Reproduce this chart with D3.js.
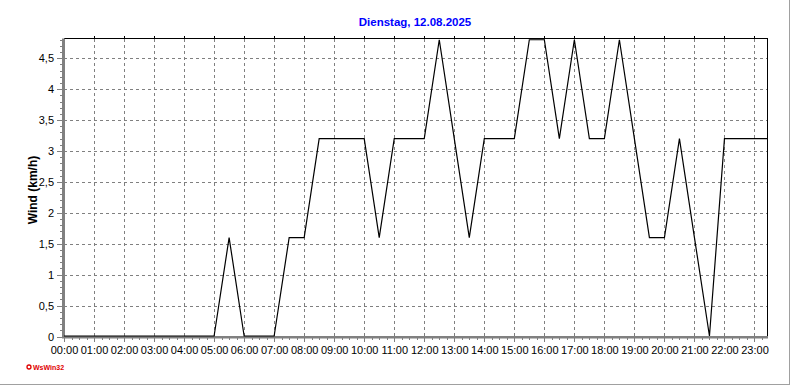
<!DOCTYPE html>
<html>
<head>
<meta charset="utf-8">
<script src="https://cdn.jsdelivr.net/npm/d3@7"></script>
<style>
html,body{margin:0;padding:0;background:#fff;}
svg{display:block;}
text{font-family:"Liberation Sans",Arial,sans-serif;}
</style>
</head>
<body>
<svg id="chart" width="792" height="387"></svg>
<script>
// ---- data ----
const title = "Dienstag, 12.08.2025";
const yLabel = "Wind  (km/h)";
const times = ["00:00","00:30","01:00","01:30","02:00","02:30","03:00","03:30","04:00","04:30",
  "05:00","05:30","06:00","06:30","07:00","07:30","08:00","08:30","09:00","09:30",
  "10:00","10:30","11:00","11:30","12:00","12:30","13:00","13:30","14:00","14:30",
  "15:00","15:30","16:00","16:30","17:00","17:30","18:00","18:30","19:00","19:30",
  "20:00","20:30","21:00","21:30","22:00","22:30","23:00","23:26"];
const wind = [0,0,0,0,0,0,0,0,0,0,
  0,1.6,0,0,0,1.6,1.6,3.2,3.2,3.2,
  3.2,1.6,3.2,3.2,3.2,4.8,3.2,1.6,3.2,3.2,
  3.2,4.8,4.8,3.2,4.8,3.2,3.2,4.8,3.2,1.6,
  1.6,3.2,1.6,0,3.2,3.2,3.2,3.2];
const xTickLabels = ["00:00","01:00","02:00","03:00","04:00","05:00","06:00","07:00","08:00","09:00",
  "10:00","11:00","12:00","13:00","14:00","15:00","16:00","17:00","18:00","19:00",
  "20:00","21:00","22:00","23:00"];
const yTicks = [0,0.5,1,1.5,2,2.5,3,3.5,4,4.5];
const xDomain = ["00:00","23:26"];
const yDomain = [0,4.82];

// ---- helpers ----
const toH = s => { const [h,m] = s.split(":").map(Number); return h + m/60; };
const fmtY = d => String(d).replace(".", ",");

const svg = d3.select("#chart");
const L = 64, R = 767.5, T = 38.5, B = 336.5;

const x = d3.scaleLinear().domain(xDomain.map(toH)).range([L, R]);
const y = d3.scaleLinear().domain(yDomain).range([B, T]);

// outer frame (right/bottom shadow lines)
svg.append("line").attr("x1",789.5).attr("x2",789.5).attr("y1",0).attr("y2",385).attr("stroke","#a0a0a0");
svg.append("line").attr("x1",0).attr("x2",790).attr("y1",384.5).attr("y2",384.5).attr("stroke","#a0a0a0");

// title
svg.append("text").attr("x",415).attr("y",26).attr("text-anchor","middle")
  .attr("font-size","11.5px").attr("font-weight","bold").attr("fill","#0000ff").text(title);

// grid
const g = svg.append("g").attr("shape-rendering","crispEdges");
g.selectAll(".vg").data(xTickLabels.slice(1)).join("line")
  .attr("x1",d=>Math.round(x(toH(d)))+0.5).attr("x2",d=>Math.round(x(toH(d)))+0.5)
  .attr("y1",T).attr("y2",B).attr("stroke","#808080").attr("stroke-dasharray","3,3");
g.selectAll(".hg").data(yTicks.slice(1)).join("line")
  .attr("x1",L).attr("x2",R).attr("y1",d=>Math.round(y(d))+0.5).attr("y2",d=>Math.round(y(d))+0.5)
  .attr("stroke","#808080").attr("stroke-dasharray","3,3");

// top and right border
g.append("line").attr("x1",L).attr("x2",R).attr("y1",T).attr("y2",T).attr("stroke","#000");
g.append("line").attr("x1",R).attr("x2",R).attr("y1",T).attr("y2",B).attr("stroke","#000");
// top ticks (hour marks above border)
g.selectAll(".tt").data(xTickLabels.slice(1)).join("line")
  .attr("x1",d=>Math.round(x(toH(d)))+0.5).attr("x2",d=>Math.round(x(toH(d)))+0.5)
  .attr("y1",T-3).attr("y2",T).attr("stroke","#000");

// x axis
const xAxis = d3.axisBottom(x)
  .tickValues(xTickLabels.map(toH))
  .tickFormat((d,i)=>xTickLabels[i])
  .tickSize(4).tickPadding(5);
const xa = svg.append("g").attr("transform",`translate(0,${B+1})`).call(xAxis);
xa.select(".domain").remove();
xa.selectAll(".tick line").attr("stroke","#808080").attr("shape-rendering","crispEdges");
xa.selectAll("text").attr("font-size","11px").attr("fill","#000").attr("font-family","'Liberation Sans',Arial,sans-serif");
// x minor ticks (quarter hours)
const xMinor = d3.range(0, toH(xDomain[1]), 0.25).filter(v => v % 1 !== 0);
svg.append("g").attr("shape-rendering","crispEdges").selectAll("line").data(xMinor).join("line")
  .attr("x1",d=>Math.round(x(d))+0.5).attr("x2",d=>Math.round(x(d))+0.5)
  .attr("y1",B+1).attr("y2",B+3).attr("stroke","#808080");

// y axis
const yAxis = d3.axisLeft(y).tickValues(yTicks).tickFormat(fmtY).tickSize(5).tickPadding(3);
const ya = svg.append("g").attr("transform",`translate(${L-2},0)`).call(yAxis);
ya.select(".domain").remove();
ya.selectAll(".tick line").attr("stroke","#808080").attr("shape-rendering","crispEdges");
ya.selectAll("text").attr("font-size","11px").attr("fill","#000").attr("font-family","'Liberation Sans',Arial,sans-serif");
const yMinor = d3.range(0.1, yDomain[1], 0.1).filter(v => Math.abs(v*2 - Math.round(v*2)) > 1e-6);
svg.append("g").attr("shape-rendering","crispEdges").selectAll("line").data(yMinor).join("line")
  .attr("x1",L-4).attr("x2",L-2).attr("y1",d=>Math.round(y(d))+0.5).attr("y2",d=>Math.round(y(d))+0.5)
  .attr("stroke","#808080");

// thick gray axis lines
svg.append("rect").attr("x",L-2).attr("y",T).attr("width",3).attr("height",B-T+1.5).attr("fill","#808080");
svg.append("rect").attr("x",L-2).attr("y",B-0.5).attr("width",R-L+2.5).attr("height",2.5).attr("fill","#808080");

// y label
svg.append("text").attr("transform","translate(37,190) rotate(-90)").attr("text-anchor","middle")
  .attr("font-size","12px").attr("font-weight","bold").attr("fill","#000").text(yLabel);

// data line
const data = times.map((t,i)=>({t:toH(t), v:wind[i]}));
svg.append("path").datum(data)
  .attr("fill","none").attr("stroke","#000").attr("stroke-width",1.2)
  .attr("d", d3.line().x(d=>x(d.t)).y(d=>Math.min(y(d.v), B-0.5)));

// logo
svg.append("circle").attr("cx",29).attr("cy",367).attr("r",2).attr("fill","none").attr("stroke","#e00000").attr("stroke-width",1.3);
svg.append("text").attr("x",33).attr("y",369.5).attr("font-size","7px").attr("font-weight","bold")
  .attr("fill","#e00000").text("WsWin32");
</script>
</body>
</html>
